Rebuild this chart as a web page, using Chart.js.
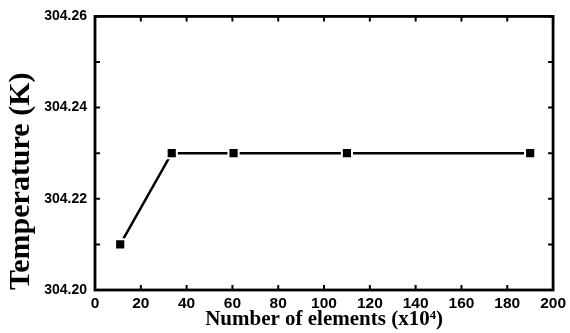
<!DOCTYPE html>
<html>
<head>
<meta charset="utf-8">
<script src="https://cdn.jsdelivr.net/npm/chart.js@4/dist/chart.umd.min.js"></script>
<style>
  html, body { margin: 0; padding: 0; background: #fff; }
  #wrap { width: 570px; height: 333px; position: relative; }
</style>
</head>
<body>
<div id="wrap"><canvas id="c" width="570" height="333"></canvas></div>
<script>
const elements = [11, 33.5, 60.5, 110, 190];
const temperature = [304.21, 304.23, 304.23, 304.23, 304.23];
const xTicks = [0, 20, 40, 60, 80, 100, 120, 140, 160, 180, 200];
const yTicks = [304.20, 304.21, 304.22, 304.23, 304.24, 304.25, 304.26];
const yLabelTicks = ['304.20', '304.22', '304.24', '304.26'];
const xTitle = 'Number of elements (x10\u2074)';
const yTitle = 'Temperature (K)';

const framePlugin = {
  id: 'frame',
  afterDraw(chart) {
    const { ctx, chartArea: a, scales } = chart;
    const xs = scales.x, ys = scales.y;
    ctx.save();
    ctx.strokeStyle = '#000';
    ctx.lineWidth = 2.8;
    ctx.strokeRect(a.left, a.top, a.right - a.left, a.bottom - a.top);
    ctx.lineWidth = 2;
    const L = 5;
    ctx.beginPath();
    xTicks.forEach(v => {
      const px = xs.getPixelForValue(v);
      ctx.moveTo(px, a.bottom); ctx.lineTo(px, a.bottom - L);
      ctx.moveTo(px, a.top); ctx.lineTo(px, a.top + L);
    });
    yTicks.forEach(v => {
      const py = ys.getPixelForValue(v);
      ctx.moveTo(a.left, py); ctx.lineTo(a.left + L, py);
      ctx.moveTo(a.right, py); ctx.lineTo(a.right - L, py);
    });
    ctx.stroke();
    ctx.restore();
  }
};

new Chart(document.getElementById('c'), {
  type: 'line',
  data: {
    datasets: [{
      data: elements.map((x, i) => ({ x, y: temperature[i] })),
      borderColor: '#000',
      borderWidth: 2.5,
      pointStyle: 'rect',
      pointRadius: 7.2,
      pointBackgroundColor: '#000',
      pointBorderColor: '#fff',
      pointBorderWidth: 2,
      pointHoverRadius: 7.2,
      tension: 0,
      clip: false
    }]
  },
  options: {
    responsive: false,
    animation: false,
    devicePixelRatio: 1,
    layout: { padding: { left: 0, right: 15, top: 12.5, bottom: 0 } },
    plugins: { legend: { display: false }, tooltip: { enabled: false } },
    scales: {
      x: {
        type: 'linear',
        min: 0, max: 200,
        afterFit(s) { s.height = 43; },
        afterBuildTicks(s) { s.ticks = xTicks.map(v => ({ value: v })); },
        grid: { display: false, drawTicks: false, tickLength: 0 },
        border: { display: false },
        ticks: {
          color: '#000',
          padding: 4,
          maxRotation: 0,
          autoSkip: false,
          font: { family: 'Liberation Sans', weight: 'bold', size: 15.5 },
          callback: v => String(v)
        },
        title: {
          display: true,
          text: xTitle,
          color: '#000',
          padding: { top: 0, bottom: 2.5 },
          font: { family: 'Liberation Serif', weight: 'bold', size: 21, lineHeight: 1 }
        }
      },
      y: {
        type: 'linear',
        min: 304.20, max: 304.26,
        afterFit(s) { s.width = 95; },
        afterBuildTicks(s) { s.ticks = yTicks.map(v => ({ value: v })); },
        grid: { display: false, drawTicks: false, tickLength: 0 },
        border: { display: false },
        ticks: {
          color: '#000',
          padding: 8,
          autoSkip: false,
          font: { family: 'Liberation Sans', weight: 'bold', size: 14 },
          callback: v => {
            const s = Number(v).toFixed(2);
            return yLabelTicks.includes(s) ? s : '';
          }
        },
        title: {
          display: true,
          text: yTitle,
          color: '#000',
          align: 'start',
          padding: { top: 6, bottom: 0 },
          font: { family: 'Liberation Serif', weight: 'bold', size: 30, lineHeight: 1 }
        }
      }
    }
  },
  plugins: [framePlugin]
});
</script>
</body>
</html>
